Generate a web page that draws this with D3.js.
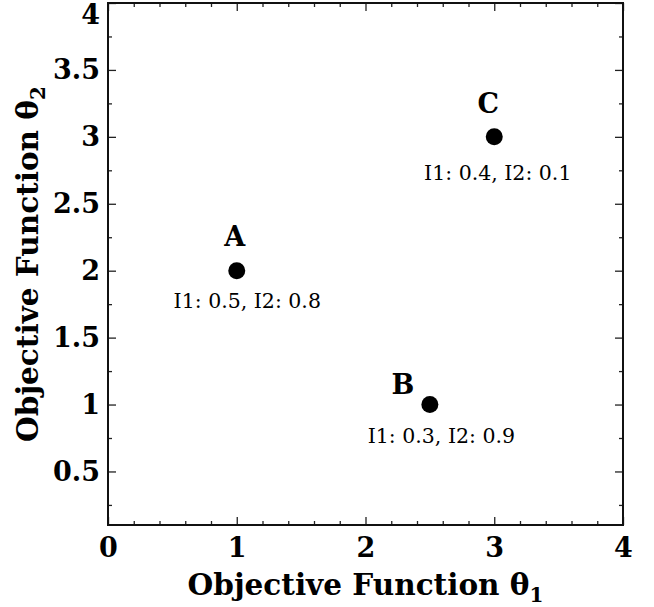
<!DOCTYPE html>
<html>
<head>
<meta charset="utf-8">
<script src="https://cdn.jsdelivr.net/npm/d3@7/dist/d3.min.js"></script>
<style>
  body { margin: 0; background: #fff; }
  text { font-family: "DejaVu Serif", serif; }
</style>
</head>
<body>
<div id="chart"></div>
<script>
// dữ liệu các điểm
const pointNames = ["A", "B", "C"];
const theta1 = [1, 2.5, 3];
const theta2 = [2, 1, 3];
const i1Values = [0.5, 0.3, 0.4];
const i2Values = [0.8, 0.9, 0.1];

const xTicks = [0, 1, 2, 3, 4];
const yTicks = [0.5, 1, 1.5, 2, 2.5, 3, 3.5, 4];

// vị trí nhãn (đặt riêng, không thuộc dữ liệu)
const nameOffset = { A: [-2, -25], B: [-27, -11], C: [-6, -24] };
const noteOffset = { A: [10.5, 37], B: [11.5, 38], C: [3.5, 43] };

const W = 654, H = 607;
const margin = { top: 3, right: 31, bottom: 82, left: 108 };
const width = W - margin.left - margin.right;
const height = H - margin.top - margin.bottom;

const svg = d3.select("#chart").append("svg")
  .attr("width", W).attr("height", H)
  .append("g")
  .attr("transform", `translate(${margin.left},${margin.top})`);

const x = d3.scaleLinear().domain([0, 4]).range([0, width]);
const y = d3.scaleLinear().domain([0.1, 4]).range([height, 0]);

const xMinor = d3.range(0, 4.001, 0.2).map(v => +v.toFixed(2)).filter(v => !xTicks.includes(v));
const yMinor = d3.range(0.25, 4.001, 0.25).map(v => +v.toFixed(2)).filter(v => !yTicks.includes(v));

function styleAxis(g) {
  g.select(".domain").remove();
  g.selectAll("line").attr("stroke", "#222").attr("stroke-width", 1.3);
  g.selectAll("text")
    .style("font-family", "'DejaVu Serif', serif")
    .style("font-weight", "bold")
    .style("font-size", "27px")
    .attr("fill", "#000");
}

// trục dưới
svg.append("g")
  .attr("transform", `translate(0,${height})`)
  .call(d3.axisBottom(x).tickValues(xTicks).tickSize(-8).tickPadding(13).tickFormat(d3.format("d")))
  .call(styleAxis);
svg.append("g")
  .attr("transform", `translate(0,${height})`)
  .call(d3.axisBottom(x).tickValues(xMinor).tickSize(-4).tickFormat(""))
  .call(styleAxis);

// trục trên
svg.append("g")
  .call(d3.axisTop(x).tickValues(xTicks).tickSize(-8).tickFormat(""))
  .call(styleAxis);
svg.append("g")
  .call(d3.axisTop(x).tickValues(xMinor).tickSize(-4).tickFormat(""))
  .call(styleAxis);

// trục trái
const yAxisG = svg.append("g")
  .call(d3.axisLeft(y).tickValues(yTicks).tickSize(-8).tickPadding(8).tickFormat(d => d3.format("")(d)))
  .call(styleAxis);
// nhãn 4 bị dời xuống cho khỏi bị cắt
yAxisG.selectAll(".tick text").filter(d => d === 4).attr("dy", "0.76em");
svg.append("g")
  .call(d3.axisLeft(y).tickValues(yMinor).tickSize(-4).tickFormat(""))
  .call(styleAxis);

// trục phải
svg.append("g")
  .attr("transform", `translate(${width},0)`)
  .call(d3.axisRight(y).tickValues(yTicks).tickSize(-8).tickFormat(""))
  .call(styleAxis);
svg.append("g")
  .attr("transform", `translate(${width},0)`)
  .call(d3.axisRight(y).tickValues(yMinor).tickSize(-4).tickFormat(""))
  .call(styleAxis);

// khung
svg.append("rect")
  .attr("width", width).attr("height", height)
  .attr("fill", "none").attr("stroke", "#111").attr("stroke-width", 2);

// tiêu đề trục
const xLabel = svg.append("text")
  .attr("x", width / 2).attr("y", height + 70)
  .attr("text-anchor", "middle")
  .style("font-weight", "bold").style("font-size", "29.5px");
xLabel.append("tspan").text("Objective Function θ");
xLabel.append("tspan").attr("dy", 7).style("font-size", "20px").text("1");

const yLabel = svg.append("text")
  .attr("transform", `translate(${38 - margin.left},${height / 2}) rotate(-90)`)
  .attr("text-anchor", "middle")
  .style("font-weight", "bold").style("font-size", "29.5px");
yLabel.append("tspan").text("Objective Function θ");
yLabel.append("tspan").attr("dy", 7).style("font-size", "20px").text("2");

// điểm
const points = pointNames.map((name, i) => ({
  name, t1: theta1[i], t2: theta2[i], i1: i1Values[i], i2: i2Values[i]
}));

svg.selectAll("circle.pt")
  .data(points)
  .enter().append("circle")
  .attr("class", "pt")
  .attr("cx", d => x(d.t1))
  .attr("cy", d => y(d.t2))
  .attr("r", 8.5)
  .attr("fill", "#000");

svg.selectAll("text.name")
  .data(points)
  .enter().append("text")
  .attr("class", "name")
  .attr("x", d => x(d.t1) + nameOffset[d.name][0])
  .attr("y", d => y(d.t2) + nameOffset[d.name][1])
  .attr("text-anchor", "middle")
  .style("font-weight", "bold").style("font-size", "27px")
  .text(d => d.name);

svg.selectAll("text.note")
  .data(points)
  .enter().append("text")
  .attr("class", "note")
  .attr("x", d => x(d.t1) + noteOffset[d.name][0])
  .attr("y", d => y(d.t2) + noteOffset[d.name][1])
  .attr("text-anchor", "middle")
  .style("font-size", "20.5px")
  .text(d => `I1: ${d.i1}, I2: ${d.i2}`);
</script>
</body>
</html>
